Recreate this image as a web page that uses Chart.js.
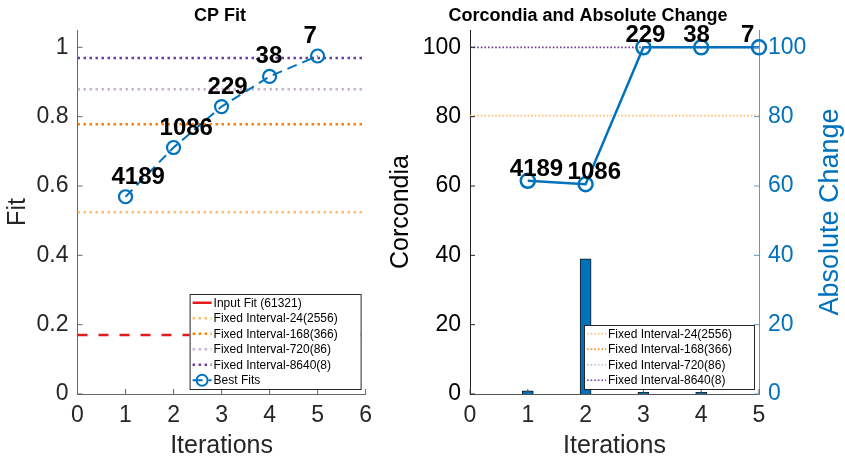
<!doctype html>
<html lang="en">
  <head>
    <meta charset="utf-8">
    <title>CP Fit / Corcondia</title>
    <style>
      * { margin: 0; padding: 0; }
      body { width: 845px; height: 459px; background: #fff; position: relative; overflow: hidden; }
      canvas { position: absolute; top: 0; }
      #fitChart { left: 0; }
      #corChart { left: 380px; }
    </style>
  </head>
  <body>
    <canvas id="fitChart" width="380" height="459"></canvas>
    <canvas id="corChart" width="465" height="459"></canvas>
    <script src="https://cdn.jsdelivr.net/npm/chart.js/dist/chart.umd.min.js"></script>
    <script>
    // data
    const iterations = [1, 2, 3, 4, 5]
    const runCounts = ['4189', '1086', '229', '38', '7']
    const bestFit = [0.569, 0.711, 0.829, 0.916, 0.975]
    const inputFit = 0.170
    const inputLabel = 'Input Fit (61321)'
    const fixedNames = ['Fixed Interval-24(2556)', 'Fixed Interval-168(366)', 'Fixed Interval-720(86)', 'Fixed Interval-8640(8)']
    const fixedFit = [0.524, 0.778, 0.879, 0.969]
    // 168 and 720 lines do not show on the corcondia axis
    const fixedCorcondia = [80.3, null, null, 100]
    const barIterations = [1, 2, 3, 4]
    const corcondia = [0.9, 39, 0.5, 0.5]
    const absChange = [61.5, 60.5, 100, 100, 100]
    const fitTicks = [0, 1, 2, 3, 4, 5, 6]

    // styles
    const FONT = '"Liberation Sans", Arial, sans-serif'
    const BLUE = '#0072BD'
    const AXIS = '#262626'
    const fixedColors = ['#fdbf6f', '#ff7f00', '#cab2d6', '#6a3d9a']

    const hline = (v, xmax) => [{x: 0, y: v}, {x: xmax, y: v}]
    const pts = (xs, ys) => xs.map((x, i) => ({x, y: ys[i]}))

    // small inward tick marks like matlab
    const inwardTicks = {
      id: 'inwardTicks',
      afterDraw(chart) {
        const {ctx, chartArea: a} = chart
        Object.values(chart.scales).forEach(s => {
          ctx.save()
          ctx.strokeStyle = s.options.border.color
          ctx.lineWidth = 1
          s.ticks.forEach((t, i) => {
            const p = s.getPixelForTick(i)
            ctx.beginPath()
            if (s.position === 'bottom') { ctx.moveTo(p, a.bottom); ctx.lineTo(p, a.bottom - 5) }
            else if (s.position === 'left') { ctx.moveTo(a.left, p); ctx.lineTo(a.left + 5, p) }
            else { ctx.moveTo(a.right, p); ctx.lineTo(a.right - 5, p) }
            ctx.stroke()
          })
          ctx.restore()
        })
      }
    }

    // title, point labels, boxed legend and rotated right title
    const decorations = {
      id: 'decorations',
      afterDraw(chart, args, opts) {
        const {ctx, chartArea: a} = chart
        ctx.save()
        ctx.fillStyle = '#000'
        ctx.font = 'bold 18px ' + FONT
        ctx.textAlign = 'center'
        ctx.textBaseline = 'middle'
        ctx.fillText(opts.title, opts.titleX, 16)

        // run counts above the line points
        const meta = chart.getDatasetMeta(opts.labelDataset)
        ctx.font = 'bold 24px ' + FONT
        ctx.textAlign = 'left'
        ctx.textBaseline = 'alphabetic'
        meta.data.forEach((pt, i) => {
          ctx.fillText(runCounts[i], pt.x + opts.labelDx, pt.y + opts.labelDy)
        })

        // legend box
        const items = chart.data.datasets.filter(d => d.inLegend)
        const rowH = 15.5
        const w = opts.legendWidth
        const h = items.length * rowH + 2
        const x0 = a.right - 5 - w
        const y0 = a.bottom - 5 - h
        ctx.fillStyle = '#fff'
        ctx.fillRect(x0, y0, w, h)
        ctx.strokeStyle = AXIS
        ctx.lineWidth = 1
        ctx.strokeRect(x0 + 0.5, y0 + 0.5, w, h)
        ctx.font = '12px ' + FONT
        ctx.textBaseline = 'middle'
        items.forEach((d, i) => {
          const cy = y0 + 1 + rowH * (i + 0.5)
          ctx.save()
          ctx.strokeStyle = d.borderColor
          ctx.lineWidth = d.borderWidth
          ctx.setLineDash(d.legendDash || d.borderDash || [])
          ctx.beginPath()
          ctx.moveTo(x0 + 3, cy)
          ctx.lineTo(x0 + opts.sampleW, cy)
          ctx.stroke()
          if (d.pointRadius) {
            ctx.setLineDash([])
            ctx.lineWidth = 2
            ctx.beginPath()
            ctx.arc(x0 + 3 + (opts.sampleW - 3) / 2, cy, 5.5, 0, Math.PI * 2)
            ctx.stroke()
          }
          ctx.restore()
          ctx.fillStyle = '#000'
          ctx.fillText(d.label, x0 + opts.sampleW + 2, cy + 0.5)
        })

        if (opts.rightTitle) {
          ctx.save()
          ctx.translate(opts.rightTitleX, (a.top + a.bottom) / 2)
          ctx.rotate(-Math.PI / 2)
          ctx.fillStyle = BLUE
          ctx.font = '27px ' + FONT
          ctx.textAlign = 'center'
          ctx.textBaseline = 'middle'
          ctx.fillText(opts.rightTitle, 0, 0)
          ctx.restore()
        }
        ctx.restore()
      }
    }

    const tickFont = {family: FONT, size: 23}
    const titleFont = {family: FONT, size: 25}
    const fmt = v => String(+v.toFixed(2))

    // left chart: CP Fit
    const fitSets = [{
      label: 'Best Fits', inLegend: false,
      data: pts(iterations, bestFit),
      borderColor: BLUE, borderWidth: 2, borderDash: [10, 6],
      pointRadius: 6.5, pointBorderWidth: 2.2, pointBackgroundColor: 'rgba(0,0,0,0)', pointBorderColor: BLUE,
      clip: false, order: 0
    }, {
      label: inputLabel, inLegend: true,
      data: hline(inputFit, 6),
      borderColor: '#e41a1c', borderWidth: 2.5, borderDash: [10, 11], legendDash: [],
      pointRadius: 0, order: 6
    }]
    fixedNames.forEach((name, i) => {
      fitSets.push({
        label: name, inLegend: true,
        data: hline(fixedFit[i], 6),
        borderColor: fixedColors[i], borderWidth: 2.5, borderDash: [2.5, 3.5],
        pointRadius: 0, order: 5 - i
      })
    })
    // legend order: best fits last
    fitSets.push(Object.assign({}, fitSets[0], {inLegend: true, data: [], order: 9}))
    fitSets[0].inLegend = false

    const fitChart = new Chart(document.getElementById('fitChart'), {
      type: 'line',
      data: {datasets: fitSets},
      options: {
        responsive: false,
        animation: false,
        layout: {padding: {top: 30, right: 13}},
        plugins: {
          legend: {display: false},
          tooltip: {enabled: false},
          decorations: {
            title: 'CP Fit', titleX: 220, labelDataset: 0, labelDx: -14, labelDy: -13,
            legendWidth: 171, sampleW: 22
          }
        },
        scales: {
          x: {
            type: 'linear', min: 0, max: 6, offset: false,
            afterBuildTicks: s => { s.ticks = fitTicks.map(v => ({value: v})) },
            afterFit: s => { s.height = 65 },
            grid: {display: false, drawTicks: false},
            border: {display: true, color: '#666', width: 1},
            ticks: {font: tickFont, color: AXIS, padding: 8, maxRotation: 0},
            title: {display: true, text: 'Iterations', font: titleFont, color: AXIS, padding: {top: 0, bottom: -2}}
          },
          y: {
            min: 0, max: 1.05,
            afterFit: s => { s.width = 77.5 },
            grid: {display: false, drawTicks: false},
            border: {display: true, color: '#666', width: 1},
            ticks: {font: tickFont, color: AXIS, padding: 9, stepSize: 0.2, includeBounds: false, callback: fmt},
            title: {display: true, text: 'Fit', font: titleFont, color: AXIS, padding: {top: 3, bottom: 0}}
          }
        }
      },
      plugins: [inwardTicks, decorations]
    })

    // right chart: Corcondia and Absolute Change
    const corSets = [{
      label: 'Absolute Change', inLegend: false, type: 'line',
      data: pts(iterations, absChange), yAxisID: 'y2',
      borderColor: BLUE, borderWidth: 2.5,
      pointRadius: 7, pointBorderWidth: 2.5, pointBackgroundColor: 'rgba(0,0,0,0)', pointBorderColor: BLUE,
      clip: false, order: 0
    }]
    fixedNames.forEach((name, i) => {
      corSets.push({
        label: name, inLegend: true, type: 'line',
        data: hline(fixedCorcondia[i], 5), yAxisID: 'y',
        borderColor: fixedColors[i], borderWidth: 1.6, borderDash: [1.6, 2],
        pointRadius: 0, order: 5 - i
      })
    })
    corSets.push({
      label: 'Corcondia', inLegend: false, type: 'bar',
      data: pts(barIterations, corcondia), yAxisID: 'y',
      backgroundColor: BLUE, borderColor: '#1a1a1a', borderWidth: 1,
      barThickness: 11, order: 8
    })

    const corChart = new Chart(document.getElementById('corChart'), {
      type: 'line',
      data: {datasets: corSets},
      options: {
        responsive: false,
        animation: false,
        layout: {padding: {top: 30}},
        plugins: {
          legend: {display: false},
          tooltip: {enabled: false},
          decorations: {
            title: 'Corcondia and Absolute Change', titleX: 208, labelDataset: 0, labelDx: -18, labelDy: -5,
            legendWidth: 170, sampleW: 22, rightTitle: 'Absolute Change', rightTitleX: 451
          }
        },
        scales: {
          x: {
            type: 'linear', min: 0, max: 5, offset: false,
            afterBuildTicks: s => { s.ticks = fitTicks.slice(0, 6).map(v => ({value: v})) },
            afterFit: s => { s.height = 65 },
            grid: {display: false, drawTicks: false, offset: false},
            border: {display: true, color: '#555', width: 1},
            ticks: {font: tickFont, color: AXIS, padding: 8, maxRotation: 0},
            title: {display: true, text: 'Iterations', font: titleFont, color: AXIS, padding: {top: 0, bottom: -2}}
          },
          y: {
            position: 'left', min: 0, max: 105,
            afterFit: s => { s.width = 90 },
            grid: {display: false, drawTicks: false},
            border: {display: true, color: '#222', width: 1},
            ticks: {font: tickFont, color: '#000', padding: 9, stepSize: 20, includeBounds: false},
            title: {display: true, text: 'Corcondia', font: titleFont, color: '#000', padding: {top: 6, bottom: 0}}
          },
          y2: {
            position: 'right', min: 0, max: 105,
            afterFit: s => { s.width = 86 },
            grid: {display: false, drawTicks: false},
            border: {display: true, color: '#4f9fd8', width: 1},
            ticks: {font: tickFont, color: BLUE, padding: 9, stepSize: 20, includeBounds: false}
          }
        }
      },
      plugins: [inwardTicks, decorations]
    })
    </script>
  </body>
</html>
